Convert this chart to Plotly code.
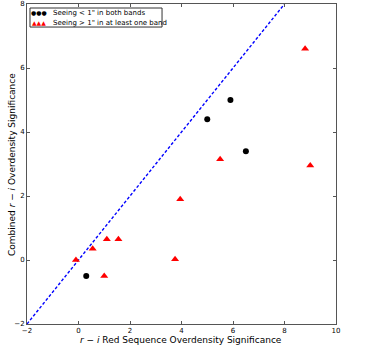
import plotly.graph_objects as go

# seeing < 1" in both bands
good_x = [0.3, 5.0, 5.9, 6.5]
good_y = [-0.5, 4.4, 5.0, 3.4]

# seeing > 1" in at least one band
bad_x = [-0.1, 0.55, 1.1, 1.55, 1.0, 3.75, 3.95, 5.5, 8.8, 9.0]
bad_y = [0.0, 0.35, 0.65, 0.65, -0.5, 0.02, 1.9, 3.15, 6.6, 2.95]

one_to_one = [-2, 8]
tick_vals = [-2, 0, 2, 4, 6, 8, 10]
y_tick_vals = [-2, 0, 2, 4, 6, 8]

good_label = 'Seeing < 1" in both bands'
bad_label = 'Seeing > 1" in at least one band'

fig = go.Figure()
fig.add_trace(go.Scatter(
    x=one_to_one, y=one_to_one, mode='lines', showlegend=False,
    line=dict(color='blue', width=1.4, dash='3px,2px'),
))
fig.add_trace(go.Scatter(
    x=good_x, y=good_y, mode='markers', name=good_label, showlegend=False,
    marker=dict(color='black', size=6, symbol='circle'),
))
fig.add_trace(go.Scatter(
    x=bad_x, y=bad_y, mode='markers', name=bad_label, showlegend=False,
    marker=dict(color='red', size=7, symbol='triangle-up'),
))

axis_style = dict(
    showgrid=False, zeroline=False,
    showline=True, mirror='allticks', linecolor='#555555', linewidth=1,
    ticks='inside', ticklen=3, tickcolor='#555555',
    tickfont=dict(size=7, color='black'),
)
fig.update_xaxes(range=[-2, 10], tickvals=tick_vals, **axis_style)
fig.update_yaxes(range=[-2, 8], tickvals=y_tick_vals, **axis_style)

# compact matplotlib-like legend (numpoints=3) drawn by hand
legend_rows = [(good_label, '●●●', 'black', 0.972), (bad_label, '▲▲▲', 'red', 0.941)]
annotations = []
for label, glyphs, colour, yy in legend_rows:
    annotations.append(dict(text=glyphs, xref='paper', yref='paper', x=0.039, y=yy,
                            xanchor='center', yanchor='middle', showarrow=False,
                            font=dict(size=6, color=colour)))
    annotations.append(dict(text=label, xref='paper', yref='paper', x=0.077, y=yy,
                            xanchor='left', yanchor='middle', showarrow=False,
                            font=dict(size=7)))

annotations += [
    dict(text='<i>r</i> − <i>i</i> Red Sequence Overdensity Significance',
         xref='paper', yref='paper', x=0.498, y=0, yshift=-16,
         xanchor='center', yanchor='middle', showarrow=False,
         font=dict(size=9)),
    dict(text='Combined <i>r</i> − <i>i</i> Overdensity Significance',
         xref='paper', yref='paper', x=0, y=0.497, xshift=-15,
         xanchor='center', yanchor='middle', textangle=-90, showarrow=False,
         font=dict(size=9)),
]

fig.update_layout(
    width=377, height=345,
    margin=dict(l=27, r=41, t=4, b=21, autoexpand=False),
    plot_bgcolor='white', paper_bgcolor='white',
    font=dict(family='DejaVu Sans', color='black'),
    showlegend=False,
    shapes=[dict(type='rect', xref='paper', yref='paper',
                 x0=0.0097, x1=0.437, y0=0.928, y1=0.9875,
                 line=dict(color='#333333', width=1), fillcolor='white')],
    annotations=annotations,
)

fig.write_html("out.html", config={'displayModeBar': False},
               post_script="document.body.style.margin='0';")
